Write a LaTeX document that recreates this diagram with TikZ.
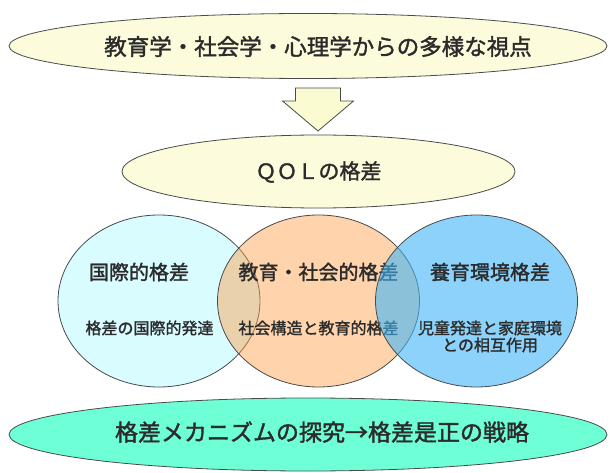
\documentclass[tikz,border=0pt]{standalone}
\usepackage{fontspec}
\setmainfont{Noto Sans CJK JP}[FakeBold=1.6]
\usetikzlibrary{shapes.geometric}
\definecolor{ylw}{HTML}{FCFCDC}
\definecolor{arrowylw}{HTML}{FBFBD2}
\definecolor{cyanfill}{HTML}{D8FCFF}
\definecolor{peachbase}{RGB}{255,159,70}
\definecolor{bluebase}{RGB}{63,180,247}
\definecolor{greenfill}{HTML}{6EFFD6}
\definecolor{edge}{HTML}{4A4A4A}
\definecolor{ink}{HTML}{2B2B2B}
\tikzset{
  oval/.style={ellipse, draw=edge, line width=0.8pt, inner sep=0pt},
  circ/.style={oval, minimum width=202pt, minimum height=172pt},
  txt/.style={inner sep=0pt, text=ink},
  bigtxt/.style={txt, font=\fontsize{22.5}{22.5}\selectfont},
  title/.style={txt, font=\fontsize{20}{20}\selectfont},
  subtxt/.style={txt, font=\fontsize{16}{17}\selectfont, align=center},
}
\begin{document}
\begin{tikzpicture}[x=1pt,y=-1pt]
\useasboundingbox (0,0) rectangle (613,473);
% top ellipse
\node[oval, fill=ylw, minimum width=598pt, minimum height=65pt] (top) at (308,46) {};
\node[bigtxt] (toptext) at (318,46.5) {教育学・社会学・心理学からの多様な視点};
% block arrow
\draw[fill=arrowylw, draw=edge, line width=0.8pt]
  (295.5,88) -- (340.5,88) -- (340.5,101) -- (353.5,101) -- (318,131)
  -- (282.5,101) -- (295.5,101) -- cycle;
% QOL ellipse
\node[oval, fill=ylw, minimum width=393pt, minimum height=73pt] (qol) at (318.5,171.5) {};
\node[txt, font=\fontsize{21}{21}\selectfont] (qoltext) at (318.5,172) {ＱＯＬの格差};
% left circle
\node[circ, fill=cyanfill] (intl) at (159,301) {};
\node[title] (intlT) at (139,272) {国際的格差};
\node[subtxt] (intlS) at (149.5,328) {格差の国際的発達};
% middle circle
\node[circ, fill=peachbase, fill opacity=0.45] (edu) at (318.5,301) {};
\node[title] (eduT) at (318.5,272) {教育・社会的格差};
\node[subtxt] (eduS) at (318.5,328) {社会構造と教育的格差};
% right circle
\node[circ, fill=bluebase, fill opacity=0.6] (home) at (476.5,301) {};
\node[title] (homeT) at (490,272) {養育環境格差};
\node[subtxt] (homeS) at (490,336.5) {児童発達と家庭環境\\との相互作用};
% bottom ellipse
\node[oval, fill=greenfill, minimum width=598pt, minimum height=73pt] (bottom) at (308,434.5) {};
\node[txt, font=\fontsize{23}{23}\selectfont] (bottext) at (322,432) {格差メカニズムの探究→格差是正の戦略};
\end{tikzpicture}
\end{document}
